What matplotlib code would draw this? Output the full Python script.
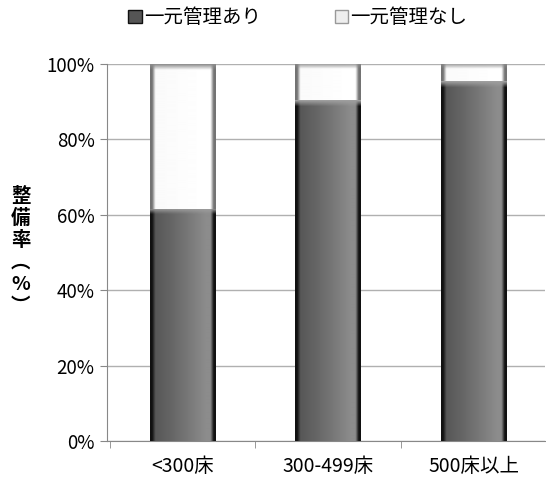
import numpy as np
import matplotlib
matplotlib.use("Agg")
import matplotlib.pyplot as plt
from matplotlib.patches import Patch

plt.rcParams['font.family'] = ['Noto Sans CJK JP', 'DejaVu Sans']

categories = ["<300床", "300-499床", "500床以上"]
with_central = [61.6, 90.3, 95.3]          # 一元管理あり (%)
without_central = [100 - v for v in with_central]  # 一元管理なし (%)
series_labels = ["一元管理あり", "一元管理なし"]
yticks = [0, 20, 40, 60, 80, 100]

BAR_W = 0.45


def profile(edge, lo, hi, n=132):
    # horizontal shading across the bar: dark rim, body brightening to the right
    t = np.linspace(0, 1, n)
    body = lo + (hi - lo) * np.clip(t / 0.85, 0, 1) ** 1.2
    rim = np.clip(np.minimum(t, 1 - t) / 0.05 - 0.6, 0, 1)
    return edge + (body - edge) * rim


def shade_bar(ax, x, y0, y1, edge, lo, hi, bevel):
    n_rows = 300
    h = profile(edge, lo, hi)
    img = np.tile(h, (n_rows, 1))
    ys = np.linspace(y1, y0, n_rows)
    top = np.clip((y1 - ys) / 1.5, 0, 1)[:, None]
    img = img * top + bevel * (1 - top)
    ax.imshow(img, extent=[x - BAR_W / 2, x + BAR_W / 2, y0, y1],
              aspect="auto", cmap="gray", vmin=0, vmax=1, zorder=3,
              interpolation="bilinear")


fig = plt.figure(figsize=(5.46, 4.83), dpi=100)
ax = fig.add_axes([0.196, 0.087, 0.802, 0.781])

xs = np.arange(len(categories))
for x, a, b in zip(xs, with_central, without_central):
    shade_bar(ax, x, 0, a, 0.07, 0.33, 0.55, 0.62)
    shade_bar(ax, x, a, a + b, 0.45, 0.98, 1.0, 0.55)

ax.set_xlim(-0.52, len(categories) - 0.51)
ax.set_ylim(0, 100)
ax.set_yticks(yticks)
ax.set_yticklabels([f"{v}%" for v in yticks], fontsize=13.5)
ax.set_xticks(xs)
ax.set_xticklabels(categories, fontsize=14)
ax.set_xticks(np.arange(len(categories)) - 0.5, minor=True)
ax.tick_params(axis="x", which="major", length=0, pad=11)
ax.tick_params(axis="x", which="minor", length=5, color="#888888")
ax.tick_params(axis="y", length=5, color="#888888", pad=4)
ax.grid(axis="y", color="#b0b0b0", linewidth=1)
ax.set_axisbelow(True)
for s in ["top", "right"]:
    ax.spines[s].set_visible(False)
for s in ["left", "bottom"]:
    ax.spines[s].set_color("#888888")

fig.text(0.038, 0.48, "整\n備\n率\n︵\n%\n︶", fontsize=14, fontweight="bold",
         ha="center", va="center", linespacing=1.2)

handles = [Patch(facecolor="#555555", edgecolor="#111111", label=series_labels[0]),
           Patch(facecolor="#eeeeee", edgecolor="#999999", label=series_labels[1])]
fig.legend(handles=handles, loc="center", bbox_to_anchor=(0.545, 0.963), ncol=2,
           frameon=False, fontsize=14, handlelength=0.7, handleheight=0.7,
           handletextpad=0.1, columnspacing=3.8)

fig.savefig("out.png", dpi=100)
